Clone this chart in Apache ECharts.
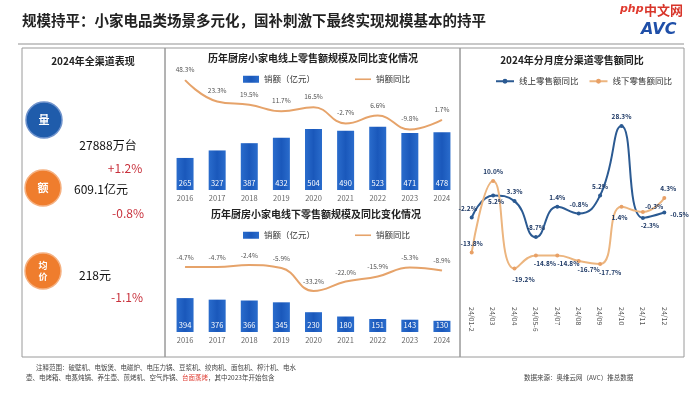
<!DOCTYPE html>
<html><head><meta charset="utf-8">
<script src="https://cdn.jsdelivr.net/npm/echarts@6/dist/echarts.min.js"></script>
<style>html,body{margin:0;padding:0;background:#fff}#c{width:700px;height:394px}</style>
</head><body><div id="c"></div>
<script>
const years = ['2016','2017','2018','2019','2020','2021','2022','2023','2024'];
const onlineSales = [265,327,387,432,504,490,523,471,478];
const onlineYoY = [48.3,23.3,19.5,11.7,16.5,-2.7,6.6,-9.8,1.7];
const offlineSales = [394,376,366,345,230,180,151,143,130];
const offlineYoY = [-4.7,-4.7,-2.4,-5.9,-33.2,-22.0,-15.9,-5.3,-8.9];
const months = ['24/01-2','24/03','24/04','24/05-6','24/07','24/08','24/09','24/10','24/11','24/12'];
const monthOnline = [-2.2,5.2,3.3,-8.7,1.4,-0.8,5.2,28.3,-2.3,-0.5];
const monthOffline = [-13.8,10.0,-19.2,-14.8,-14.8,-16.7,-17.7,1.4,-0.3,4.3];

const F = '"Noto Sans CJK SC", sans-serif';
const TAN = '#e6a36a';
const chart = echarts.init(document.getElementById('c'));

const barColor = new echarts.graphic.LinearGradient(0,0,1,0,[
  {offset:0,color:'#2a6ccc'},{offset:0.5,color:'#1a58bb'},{offset:1,color:'#2a6ccc'}]);

const onPos = ['top','bottom','top','top','top','top','top','top','bottom','right'];
const onOff = [[-4,0],[3,-3],[0,0],[0,0],[0,0],[0,0],[0,0],[0,0],[7,-2],[0,2]];
const offPos = ['top','top','bottom','bottom','bottom','bottom','bottom','bottom','right','top'];
const offOff = [[0,0],[0,0],[9,2],[9,-1],[11,-1],[10,-1],[10,-1],[-2,1],[-4,-5],[4,0]];

function pct(v){return v.toFixed(1)+'%';}
const lineIcon = 'path://M0,0 L20,0 L20,2 L0,2 Z';

const option = {
  animation:false,
  textStyle:{fontFamily:F},
  grid:[
    {left:169,right:242,top:66,bottom:204},
    {left:169,right:242,top:250,bottom:62},
    {left:461,right:25,top:91,bottom:93}
  ],
  legend:[
    {top:70,left:238,itemWidth:16,itemHeight:7,itemGap:40,textStyle:{fontSize:8.5,color:'#333',fontFamily:F},data:[{name:'销额（亿元）',icon:'rect'},{name:'销额同比',icon:lineIcon}]},
    {top:226,left:238,itemWidth:16,itemHeight:7,itemGap:40,textStyle:{fontSize:8.5,color:'#333',fontFamily:F},data:[{name:'销额（亿元）',icon:'rect'},{name:'销额同比',icon:lineIcon}]},
    {top:72,left:490,itemWidth:18,itemHeight:6,itemGap:10,textStyle:{fontSize:8.5,color:'#333',fontFamily:F},data:['线上零售额同比','线下零售额同比']}
  ],
  xAxis:[
    {gridIndex:0,type:'category',data:years,axisLine:{show:false},axisTick:{show:false},axisLabel:{fontSize:7.5,color:'#666',margin:4}},
    {gridIndex:1,type:'category',data:years,axisLine:{show:false},axisTick:{show:false},axisLabel:{fontSize:7.5,color:'#666',margin:4}},
    {gridIndex:2,type:'category',data:months,axisLine:{show:false},axisTick:{show:false},axisLabel:{fontSize:7,color:'#555',rotate:-90,margin:6,interval:0}}
  ],
  yAxis:[
    {gridIndex:0,type:'value',min:0,max:1025,show:false,splitLine:{show:false}},
    {gridIndex:0,type:'value',min:-81,max:65,show:false,splitLine:{show:false}},
    {gridIndex:1,type:'value',min:0,max:953,show:false,splitLine:{show:false}},
    {gridIndex:1,type:'value',min:-82,max:15.5,show:false,splitLine:{show:false}},
    {gridIndex:2,type:'value',min:-30,max:40,show:false,splitLine:{show:false}}
  ],
  series:[
    {name:'销额（亿元）',type:'bar',xAxisIndex:0,yAxisIndex:0,data:onlineSales,barWidth:17,itemStyle:{color:barColor},
      label:{show:true,position:'insideBottom',color:'#fff',fontSize:7.5,distance:3}},
    {name:'销额同比',type:'line',xAxisIndex:0,yAxisIndex:1,data:onlineYoY,smooth:0.45,symbol:'circle',symbolSize:0.5,showSymbol:true,
      lineStyle:{color:TAN,width:2},itemStyle:{color:TAN},
      label:{show:true,position:'top',distance:7,color:'#555',fontSize:6.5,formatter:p=>pct(p.value)}},
    {name:'销额（亿元）',type:'bar',xAxisIndex:1,yAxisIndex:2,data:offlineSales,barWidth:17,itemStyle:{color:barColor},
      label:{show:true,position:'insideBottom',color:'#fff',fontSize:7.5,distance:3}},
    {name:'销额同比',type:'line',xAxisIndex:1,yAxisIndex:3,data:offlineYoY,smooth:0.45,symbol:'circle',symbolSize:0.5,showSymbol:true,
      lineStyle:{color:TAN,width:2},itemStyle:{color:TAN},
      label:{show:true,position:'top',distance:6,color:'#555',fontSize:6.5,formatter:p=>pct(p.value)}},
    {name:'线上零售额同比',type:'line',xAxisIndex:2,yAxisIndex:4,smooth:0.5,symbol:'circle',symbolSize:4,
      lineStyle:{color:'#2b5a92',width:2},itemStyle:{color:'#2b5a92'},
      data:monthOnline.map((v,i)=>({value:v,label:{position:onPos[i],offset:onOff[i]}})),
      label:{show:true,distance:4,color:'#1f3a66',fontSize:6.5,fontWeight:'bold',formatter:p=>pct(p.value)}},
    {name:'线下零售额同比',type:'line',xAxisIndex:2,yAxisIndex:4,smooth:0.5,symbol:'circle',symbolSize:4,
      lineStyle:{color:'#ecb57f',width:2},itemStyle:{color:'#e8a066'},
      data:monthOffline.map((v,i)=>({value:v,label:{position:offPos[i],offset:offOff[i]}})),
      label:{show:true,distance:4,color:'#1f3a66',fontSize:6.5,fontWeight:'bold',formatter:p=>pct(p.value)}}
  ],
  graphic:[
    {type:'text',left:22,top:13,style:{text:'规模持平：小家电品类场景多元化，国补刺激下最终实现规模基本的持平',fontSize:14.5,fontWeight:'bold',fill:'#222',fontFamily:F}},
    {type:'text',left:620,top:4,style:{text:'php',fontSize:11,fontStyle:'italic',fontWeight:'bold',fill:'#e03a2e',fontFamily:'DejaVu Sans'}},
    {type:'text',left:644,top:4,style:{text:'中文网',fontSize:13,fontWeight:'bold',fill:'#d8352a',fontFamily:F}},
    {type:'text',left:641,top:22,style:{text:'AVC',fontSize:16,fontWeight:'bold',fontStyle:'italic',fill:'#1f4fa8',fontFamily:'DejaVu Sans'}},
    {type:'line',shape:{x1:18,y1:44,x2:684,y2:44},style:{stroke:'#c8c8c8',lineWidth:2}},
    {type:'rect',shape:{x:22,y:48,width:143,height:309},style:{fill:'none',stroke:'#9a9a9a',lineWidth:1}},
    {type:'rect',shape:{x:165,y:48,width:295,height:309},style:{fill:'none',stroke:'#9a9a9a',lineWidth:1}},
    {type:'rect',shape:{x:460,y:48,width:224,height:309},style:{fill:'none',stroke:'#9a9a9a',lineWidth:1}},
    {type:'text',x:93,y:61,style:{text:'2024年全渠道表现',fontSize:10,fontWeight:'bold',fill:'#222',align:'center',verticalAlign:'middle',fontFamily:F}},
    {type:'text',x:313,y:58,style:{text:'历年厨房小家电线上零售额规模及同比变化情况',fontSize:10,fontWeight:'bold',fill:'#222',align:'center',verticalAlign:'middle',fontFamily:F}},
    {type:'text',x:316,y:214,style:{text:'历年厨房小家电线下零售额规模及同比变化情况',fontSize:10,fontWeight:'bold',fill:'#222',align:'center',verticalAlign:'middle',fontFamily:F}},
    {type:'text',x:572,y:60,style:{text:'2024年分月度分渠道零售额同比',fontSize:10,fontWeight:'bold',fill:'#222',align:'center',verticalAlign:'middle',fontFamily:F}},
    {type:'circle',shape:{cx:44,cy:120,r:18},style:{fill:'#1f5cab',stroke:'#6f93cc',lineWidth:1.5}},
    {type:'text',x:44,y:120,style:{text:'量',fontSize:11,fontWeight:'bold',fill:'#fff',align:'center',verticalAlign:'middle',fontFamily:F}},
    {type:'text',x:108,y:145,style:{text:'27888万台',fontSize:12,fill:'#111',align:'center',verticalAlign:'middle',fontFamily:F}},
    {type:'text',x:125,y:168,style:{text:'+1.2%',fontSize:12,fill:'#c8313c',align:'center',verticalAlign:'middle',fontFamily:F}},
    {type:'circle',shape:{cx:43,cy:188,r:18},style:{fill:'#ef7d2d',stroke:'#f5b080',lineWidth:1.5}},
    {type:'text',x:43,y:188,style:{text:'额',fontSize:11,fontWeight:'bold',fill:'#fff',align:'center',verticalAlign:'middle',fontFamily:F}},
    {type:'text',x:101,y:189,style:{text:'609.1亿元',fontSize:12,fill:'#111',align:'center',verticalAlign:'middle',fontFamily:F}},
    {type:'text',x:128,y:213,style:{text:'-0.8%',fontSize:12,fill:'#c8313c',align:'center',verticalAlign:'middle',fontFamily:F}},
    {type:'circle',shape:{cx:43,cy:271,r:18},style:{fill:'#ef7d2d',stroke:'#f5b080',lineWidth:1.5}},
    {type:'text',x:43,y:271,style:{text:'均\n价',fontSize:9,lineHeight:11,fontWeight:'bold',fill:'#fff',align:'center',verticalAlign:'middle',fontFamily:F}},
    {type:'text',x:95,y:275,style:{text:'218元',fontSize:12,fill:'#111',align:'center',verticalAlign:'middle',fontFamily:F}},
    {type:'text',x:127,y:297,style:{text:'-1.1%',fontSize:12,fill:'#c8313c',align:'center',verticalAlign:'middle',fontFamily:F}},
    {type:'text',left:36,top:364,style:{text:'注释范围：破壁机、电饭煲、电磁炉、电压力锅、豆浆机、绞肉机、面包机、榨汁机、电水',fontSize:6.5,fill:'#444',fontFamily:F}},
    {type:'text',left:26,top:374,style:{rich:{a:{fontSize:6.5,fill:'#444',fontFamily:F},r:{fontSize:6.5,fill:'#e0443a',fontFamily:F}},
      text:'{a|壶、电烤箱、电蒸炖锅、养生壶、煎烤机、空气炸锅、}{r|台面蒸烤}{a|，其中2023年开始包含}'}},
    {type:'text',left:524,top:374,style:{text:'数据来源：奥维云网（AVC）推总数据',fontSize:6.5,fill:'#444',fontFamily:F}}
  ]
};
chart.setOption(option);
</script></body></html>
